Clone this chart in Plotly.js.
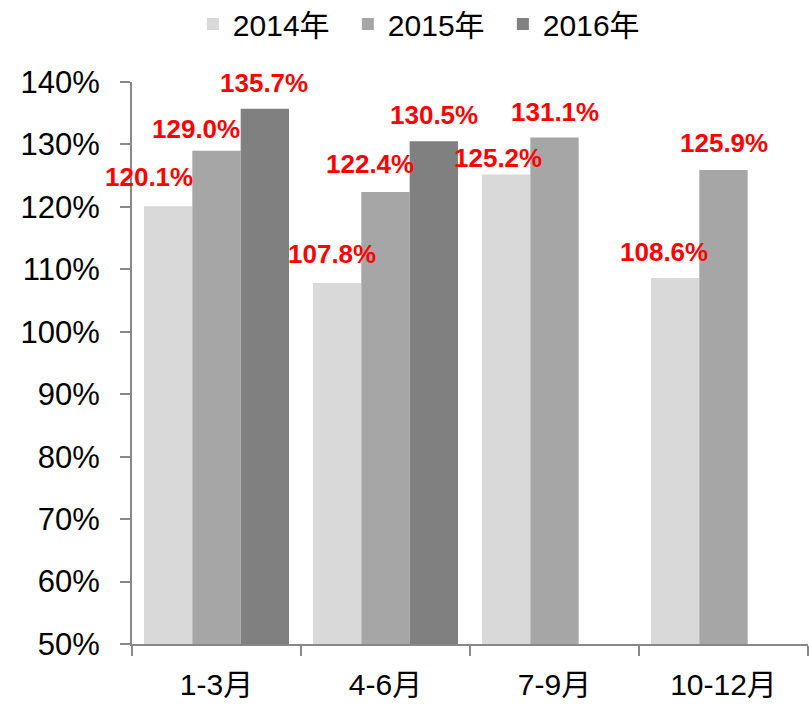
<!DOCTYPE html>
<html>
<head>
<meta charset="utf-8">
<script src="https://cdn.plot.ly/plotly-3.0.1.min.js"></script>
<style>
  html, body { margin: 0; padding: 0; background: #fff; }
  #chart { width: 809px; height: 707px; }
</style>
</head>
<body>
<div id="chart"></div>
<script>
// ---- data ----
const categories = ['1-3月', '4-6月', '7-9月', '10-12月'];
const seriesNames = ['2014年', '2015年', '2016年'];
const values2014 = [120.1, 107.8, 125.2, 108.6];
const values2015 = [129.0, 122.4, 131.1, 125.9];
const values2016 = [135.7, 130.5, null, null];
const yTickValues = [50, 60, 70, 80, 90, 100, 110, 120, 130, 140];

// ---- style ----
const seriesColors = ['#d9d9d9', '#a6a6a6', '#808080'];
const FONT = 'Liberation Sans, Arial, Noto Sans CJK SC, sans-serif';
const BARGAP = 0.142;
// manual nudges (px) of each value label relative to its bar top-centre
const labelNudges = [
  [[-19, 29], [-5, 29], [-8, 16], [-11, 26]],
  [[-21, 22], [-16, 28], [0, 26], [0, 27]],
  [[-1, 26], [0, 26], [0, 0], [0, 0]]
];

const allSeries = [values2014, values2015, values2016];

const traces = allSeries.map((vals, s) => ({
  type: 'bar',
  name: seriesNames[s],
  x: categories,
  y: vals,
  marker: { color: seriesColors[s], line: { width: 0 } },
  hoverinfo: 'none'
}));

const barFrac = (1 - BARGAP) / allSeries.length;
const annotations = [];
allSeries.forEach((vals, s) => {
  vals.forEach((v, i) => {
    if (v === null) return;
    annotations.push({
      x: i + (s - (allSeries.length - 1) / 2) * barFrac,
      y: v,
      xref: 'x', yref: 'y',
      text: v.toFixed(1) + '%',
      showarrow: false,
      xanchor: 'center', yanchor: 'middle',
      xshift: labelNudges[s][i][0],
      yshift: labelNudges[s][i][1],
      font: { family: FONT, size: 26, color: '#ff0000', weight: 'bold' }
    });
  });
});

const layout = {
  width: 809, height: 707,
  margin: { l: 132, r: 1, t: 82, b: 63, autoexpand: false },
  paper_bgcolor: '#ffffff', plot_bgcolor: '#ffffff',
  barmode: 'group',
  bargap: BARGAP,
  bargroupgap: 0,
  font: { family: FONT, size: 30, color: '#000000' },
  showlegend: true,
  legend: {
    orientation: 'h',
    x: 0.09, xanchor: 'left',
    yref: 'container',
    y: 1 - 24 / 707, yanchor: 'middle',
    entrywidth: 110, entrywidthmode: 'pixels',
    font: { family: FONT, size: 30, color: '#000' },
    bgcolor: 'rgba(0,0,0,0)'
  },
  xaxis: {
    type: 'category',
    range: [-0.5, categories.length - 0.5],
    autorange: false,
    tickmode: 'array',
    tickvals: categories,
    ticktext: categories,
    tickson: 'boundaries',
    ticks: 'outside', ticklen: 10, tickwidth: 2, tickcolor: '#888888',
    showline: true, linecolor: '#888888', linewidth: 2,
    showgrid: false, zeroline: false,
    ticklabelstandoff: 13,
    tickfont: { family: FONT, size: 30, color: '#000' },
    fixedrange: true
  },
  yaxis: {
    range: [50, 140],
    autorange: false,
    tickmode: 'array',
    tickvals: yTickValues,
    ticktext: yTickValues.map(v => v + '%'),
    ticks: 'outside', ticklen: 10, tickwidth: 2, tickcolor: '#888888',
    showline: true, linecolor: '#888888', linewidth: 2,
    showgrid: false, zeroline: false,
    ticklabelstandoff: 14,
    tickfont: { family: FONT, size: 31, color: '#000' },
    fixedrange: true
  },
  annotations: annotations
};

Plotly.newPlot('chart', traces, layout, { displayModeBar: false, staticPlot: true });
</script>
</body>
</html>
